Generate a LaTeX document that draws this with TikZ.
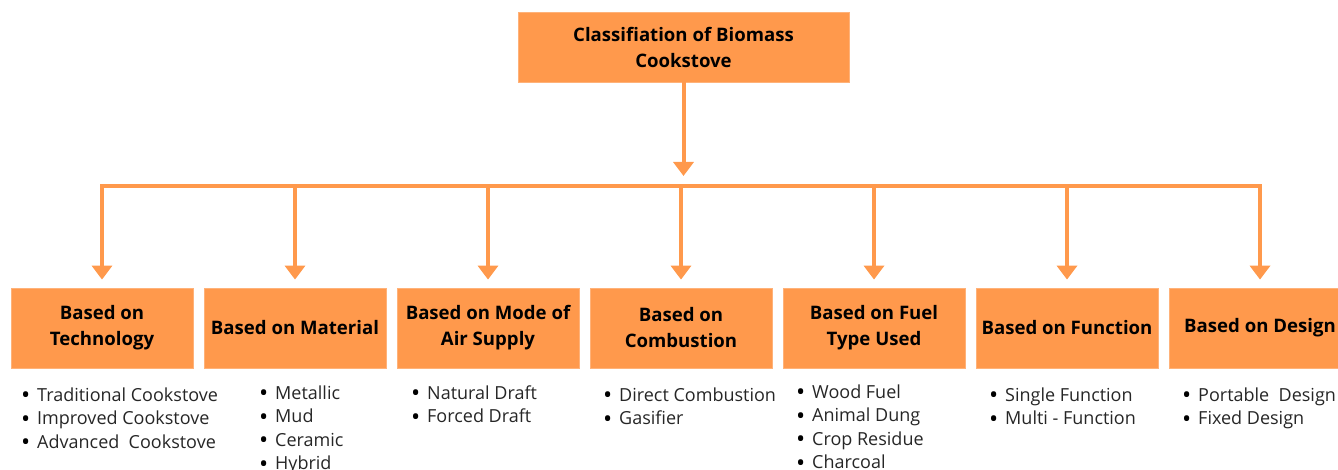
\documentclass[tikz,border=0pt]{standalone}
\usepackage{fontspec}
\setmainfont{Open Sans}
\usetikzlibrary{arrows.meta}
\definecolor{orng}{RGB}{255,153,76}
\definecolor{txt}{RGB}{38,38,38}
\tikzset{
  box/.style={fill=orng, draw=orng!75!white, line width=0.8pt, minimum width=182pt, minimum height=80pt, inner sep=0pt, align=center, font=\fontsize{18.6}{26}\selectfont\bfseries, text=black},
  topbox/.style={box, minimum width=331pt, minimum height=70pt},
  conn/.style={draw=orng, line width=4pt},
  arr/.style={conn, -{Triangle[width=20pt,length=14pt]}},
  lst/.style={anchor=base west, inner sep=0pt, font=\fontsize{18}{23.5}\selectfont, text=txt}
}
\newcommand{\bl}[1]{\makebox[16pt][l]{\raisebox{-0.25ex}{\scalebox{1.35}{\color{black}•}}}#1}
\newcommand{\lines}[1]{\begin{tabular}[t]{@{}l@{}}#1\end{tabular}}
\begin{document}
\begin{tikzpicture}[x=1pt,y=1pt]
\useasboundingbox (0,0) rectangle (1338,470);
\node[topbox] (top) at (683.5,423) {Classifiation of Biomass\\Cookstove};
\node[box] (b1) at (102,142) {Based on\\Technology};
\node[box] (b2) at (295,142) {Based on Material};
\node[box] (b3) at (488,142) {Based on Mode of\\Air Supply};
\node[box] (b4) at (681,142) {Based on\\Combustion};
\node[box] (b5) at (874,142) {Based on Fuel\\Type Used};
\node[box] (b6) at (1067,142) {Based on Function};
\node[box] (b7) at (1260,142) {Based on Design};
\coordinate (bar) at (683.5,284);
\foreach \i in {1,...,7} {\coordinate (c\i) at (b\i.north |- bar);}
\draw[conn, line cap=rect] (c1) -- (c7);
\draw[arr, shorten >=10pt] (top.south) -- (bar);
\foreach \i in {1,...,7} {\draw[arr, shorten >=8pt] (c\i) -- (b\i.north);}
\node[lst] (l1) at (21,68.5) {\lines{\bl{Traditional Cookstove}\\\bl{Improved Cookstove}\\\bl{Advanced\ \ Cookstove}}};
\node[lst] (l2) at (259,70.5) {\lines{\bl{Metallic}\\\bl{Mud}\\\bl{Ceramic}\\\bl{Hybrid}}};
\node[lst] (l3) at (411,70.5) {\lines{\bl{Natural Draft}\\\bl{Forced Draft}}};
\node[lst] (l4) at (603,68.5) {\lines{\bl{Direct Combustion}\\\bl{Gasifier}}};
\node[lst] (l5) at (796,71.5) {\lines{\bl{Wood Fuel}\\\bl{Animal Dung}\\\bl{Crop Residue}\\\bl{Charcoal}}};
\node[lst] (l6) at (989,68.5) {\lines{\bl{Single Function}\\\bl{Multi - Function}}};
\node[lst] (l7) at (1182,68.5) {\lines{\bl{Portable\ \ Design}\\\bl{Fixed Design}}};
\end{tikzpicture}
\end{document}
